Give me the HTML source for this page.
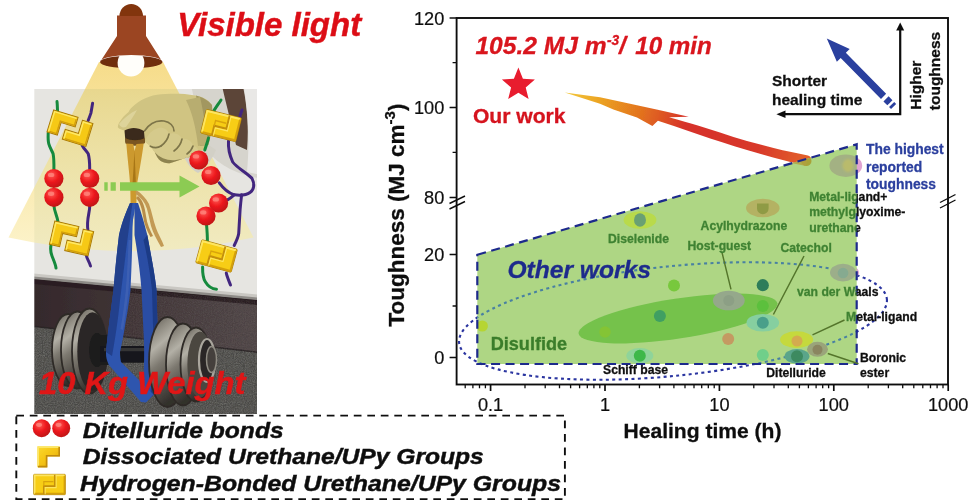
<!DOCTYPE html>
<html>
<head>
<meta charset="utf-8">
<title>Figure</title>
<style>
html,body{margin:0;padding:0;background:#fff;}
body{width:974px;height:502px;overflow:hidden;font-family:"Liberation Sans",sans-serif;}
svg{display:block;}
text{font-family:"Liberation Sans",sans-serif;}
.ax{font-size:18.2px;fill:#111;stroke:#111;stroke-width:0.2px;}
.b{font-weight:bold;}
.bi{font-weight:bold;font-style:italic;}
.sm{font-size:12.2px;font-weight:bold;}
.bl{font-size:13.85px;font-weight:bold;fill:#2b3f9e;stroke:#2b3f9e;stroke-width:0.3px;}
</style>
</head>
<body>
<svg width="974" height="502" viewBox="0 0 974 502">
<defs>
  <filter id="soft" x="-2%" y="-2%" width="104%" height="104%"><feGaussianBlur stdDeviation="0.45"/></filter>
  <filter id="b07" x="-5%" y="-5%" width="110%" height="110%"><feGaussianBlur stdDeviation="0.7"/></filter>
  <filter id="b1" x="-20%" y="-20%" width="140%" height="140%"><feGaussianBlur stdDeviation="1"/></filter>
  <filter id="b2" x="-20%" y="-20%" width="140%" height="140%"><feGaussianBlur stdDeviation="2"/></filter>
  <filter id="b4" x="-30%" y="-30%" width="160%" height="160%"><feGaussianBlur stdDeviation="4"/></filter>
  <linearGradient id="flame" gradientUnits="userSpaceOnUse" x1="806" y1="160" x2="566" y2="92">
    <stop offset="0" stop-color="#e2602a"/>
    <stop offset="0.2" stop-color="#d8382a"/>
    <stop offset="0.5" stop-color="#d6302a"/>
    <stop offset="0.68" stop-color="#e2701f"/>
    <stop offset="0.85" stop-color="#eba020"/>
    <stop offset="1" stop-color="#f3c83c"/>
  </linearGradient>
  <radialGradient id="ball" cx="0.38" cy="0.32" r="0.7">
    <stop offset="0" stop-color="#ff5a55"/>
    <stop offset="0.5" stop-color="#ee1a1e"/>
    <stop offset="1" stop-color="#c01216"/>
  </radialGradient>
  <clipPath id="inpoly"><path d="M477.3 254.8L856.7 144.3V364H477.3Z"/></clipPath>
  <clipPath id="outpoly"><path d="M856.7 100H974V400H856.7Z"/></clipPath>
</defs>
<g filter="url(#soft)">
<!-- ============ LEFT PANEL ============ -->
<defs>
  <clipPath id="floorclip"><path d="M26 326.1L265 353.9V423H26Z"/></clipPath>
  <clipPath id="bbclip"><path d="M34 280L257 301V353L34 327Z"/></clipPath>
  <clipPath id="photo"><rect x="34.3" y="89" width="222.7" height="325"/></clipPath>
  <linearGradient id="cone" gradientUnits="userSpaceOnUse" x1="0" y1="62" x2="0" y2="251">
    <stop offset="0" stop-color="#f6dc8a"/>
    <stop offset="0.3" stop-color="#f8e49f"/>
    <stop offset="0.7" stop-color="#faecb6"/>
    <stop offset="1" stop-color="#fcf3cb"/>
  </linearGradient>
  <linearGradient id="cone2" gradientUnits="userSpaceOnUse" x1="0" y1="62" x2="0" y2="251">
    <stop offset="0" stop-color="#e6d07a" stop-opacity="0.92"/>
    <stop offset="0.2" stop-color="#e9d88c" stop-opacity="0.92"/>
    <stop offset="0.55" stop-color="#eee2a2" stop-opacity="0.9"/>
    <stop offset="1" stop-color="#f2ebbc" stop-opacity="0.88"/>
  </linearGradient>
  <linearGradient id="baseb" gradientUnits="userSpaceOnUse" x1="34" y1="0" x2="257" y2="0">
    <stop offset="0" stop-color="#35292c"/>
    <stop offset="0.45" stop-color="#403436"/>
    <stop offset="1" stop-color="#4f4546"/>
  </linearGradient>
  <linearGradient id="gold" x1="0" y1="0" x2="1" y2="1">
    <stop offset="0" stop-color="#fbd92e"/>
    <stop offset="0.5" stop-color="#f4c313"/>
    <stop offset="1" stop-color="#dba50c"/>
  </linearGradient>
  <linearGradient id="steel" x1="0" y1="0" x2="0.35" y2="1">
    <stop offset="0" stop-color="#55514a"/>
    <stop offset="0.2" stop-color="#8e8a80"/>
    <stop offset="0.36" stop-color="#b3b0a6"/>
    <stop offset="0.55" stop-color="#7d7970"/>
    <stop offset="0.8" stop-color="#524e48"/>
    <stop offset="1" stop-color="#33302c"/>
  </linearGradient>
  <filter id="speck" x="0" y="0" width="100%" height="100%">
    <feTurbulence type="fractalNoise" baseFrequency="0.9" numOctaves="2" seed="3" result="n"/>
    <feColorMatrix in="n" type="matrix" values="0 0 0 0 0.5  0 0 0 0 0.5  0 0 0 0 0.48  0.9 0.9 0 0 -0.62"/>
  </filter>
  <!-- bonded pair symbol, 42x25 centred at origin -->
  <g id="pair">
    <rect x="-21" y="-12.5" width="42" height="25" rx="1.2" fill="#f7cd12" stroke="#a87a0a" stroke-width="0.9"/>
    <path d="M-19.6 11V-11.1H19.6" fill="none" stroke="#fde560" stroke-width="2.2"/>
    <path d="M19.8 -10.5V11.3H-19" fill="none" stroke="#d39f0d" stroke-width="2.2"/>
    <path d="M7 -12V2H-7.5V12" fill="none" stroke="#c48f08" stroke-width="2.2" stroke-linejoin="miter"/>
    <path d="M8.8 -12V3.8H-5.7V12" fill="none" stroke="#fde560" stroke-width="1.3"/>
    <path d="M-7.5 2V-3.5H5.2" fill="none" stroke="#d8a30c" stroke-width="1.5"/>
  </g>
  <g id="pairG">
    <path d="M0 0H25.5V10H10.8V23H0Z" fill="#f6c915" stroke="#a87a0a" stroke-width="1"/>
    <path d="M30.5 1.5H41.5V25.5H16.8V15.3H30.5Z" fill="#f6c915" stroke="#a87a0a" stroke-width="1"/>
    <path d="M1.4 21.8V1.4H24.3" fill="none" stroke="#fde765" stroke-width="1.5"/>
    <path d="M24.3 2.3V8.8H9.6V21.8H2.3" fill="none" stroke="#d39f0d" stroke-width="1.4"/>
    <path d="M18.2 24.2V16.7H31.9V2.9H40.2" fill="none" stroke="#fde765" stroke-width="1.5"/>
    <path d="M40.3 3.8V24.3H19.1" fill="none" stroke="#d39f0d" stroke-width="1.4"/>
  </g>
  <g id="rb"><circle r="9.6" fill="url(#ball)"/><ellipse cx="-2.8" cy="-3.6" rx="3.2" ry="2.2" fill="#ff8a80" opacity="0.75"/></g>
</defs>

<!-- light cone -->
<path d="M99 62H163L253.5 237.5Q131 265 8.5 237.5Z" fill="url(#cone)"/>
<!-- lamp -->
<ellipse cx="131.25" cy="62" rx="31.2" ry="6.3" fill="#6f2d10"/>
<circle cx="131" cy="63" r="13.4" fill="#fffefa"/>
<path d="M117 15.5H146V36L162.5 62A31.25 7 0 0 0 100 62L117 36Z" fill="#9b4420"/>
<path d="M119.5 16A11.7 12 0 0 1 143 16Z" fill="#82340f"/>
<!-- photo -->
<g clip-path="url(#photo)"><g filter="url(#b07)">
  <rect x="26" y="81" width="240" height="342" fill="#e6e5e1"/>
  <!-- sleeve / cuff right-top -->
  <path d="M190 81H266V179C240 176 222 168 206 150Z" fill="#d6d4cd"/>
  <path d="M221 81H242C247 105 249 125 247 150L236 145C232 125 226 105 221 81Z" fill="#5b4537"/>
  <path d="M243 81H266V176L247 172C250 140 248 110 243 81Z" fill="#e9e8e6"/>
  <!-- baseboard -->
  <path d="M26 277.2L265 299.8V353.9L26 326.1Z" fill="url(#baseb)"/>
  <path d="M26 277.2L265 299.8V305.8L26 283.2Z" fill="#2a1f22"/>
  <path d="M26 324.6L265 352.4V354.9L26 327.1Z" fill="#2b2526"/>
  <path d="M26 272.7L265 295.3V300.3L26 277.7Z" fill="#c9c7c2"/>
  <path d="M26 275.7L265 298.3V300.8L26 278.2Z" fill="#8d8a86"/>
  <!-- floor -->
  <path d="M26 326.1L265 353.9V423H26Z" fill="#4a4946"/>
  <rect x="26" y="300" width="240" height="123" filter="url(#speck)" clip-path="url(#floorclip)" opacity="0.4"/>
  <rect x="120" y="283" width="138" height="72" filter="url(#speck)" clip-path="url(#bbclip)" opacity="0.16"/>
  <!-- cone over photo -->
  <path d="M99 62H163L253.5 237.5Q131 265 8.5 237.5Z" fill="url(#cone2)"/>
  <path d="M184.6 158.1C192 156 200 152 208.5 144.7L216 150C212 160 205 169 198 173C192 170 188 165 184.6 158.1Z" fill="#d2d0c6"/>
  <!-- hand (glove) -->
  <path d="M117.8 127.3C118 124 119 123 119.6 121.9C122 118 125 115 128.6 112C130 109 132 107 134.8 104.8C139 101 144 98.5 149.2 96.8C154 95 160 94.3 165.3 94.1C170 93.7 175 93.6 179.7 93.7C186 94 194 95 200 96.5C205 98 209 101 212 105C213 118 212 132 208.5 144.7C206 148 203 150 199.6 152.2C195 155 190 157 184.6 158.1C180 160 175 162 169.7 163.2C166 163.5 163 162.5 160.7 161.1C158 159 156 155 154.8 152.2C153 150 152 148 150.3 146.2C148 144 147 143 145.2 141.7L144 131C138 127 130 127 124.5 130.5C122 130 119 129 117.8 127.3Z" fill="#d0c482"/>
  <path d="M196 95.5C202 97 208 100 212 105C213 118 212 132 208.5 144.7L200 146C201 128 199 110 196 95.5Z" fill="#9a8f5a" opacity="0.85"/>
  <path d="M186 100C192 112 196 128 198 146L208.5 144.7C206 128 203 110 200 97Z" fill="#b8ad70"/>
  <path d="M145.2 141.7C147 135 152 130 158 128C164 127 168 130 169 134C174 132 180 134 182 139C187 138 192 141 193 146C196 146 198 148 199.6 152.2C195 155 190 157 184.6 158.1C180 160 175 162 169.7 163.2C166 163.5 163 162.5 160.7 161.1C158 159 156 155 154.8 152.2C153 150 152 148 150.3 146.2C148 144 147 143 145.2 141.7Z" fill="#d5ca8c"/>
  <g fill="none" stroke="#7d7448" stroke-width="1.6" stroke-linecap="round">
    <path d="M144.5 131C149 124 156 120 164 121C170 122 174 126 174 131"/>
    <path d="M169 134C168 139 165 143 161 146"/>
    <path d="M182 139C181 144 178 148 174 151"/>
    <path d="M193 146C192 149 190 152 187 154"/>
    <path d="M150.3 146.2C154 148 158 148 161 146"/>
  </g>
  <path d="M154.8 152.2C160 158 168 161 176 160C184 159 192 156 199.6 152.2C195 155 190 157 184.6 158.1C180 160 175 162 169.7 163.2C166 163.5 163 162.5 160.7 161.1C158 159 156 155 154.8 152.2Z" fill="#8d8350"/>
  <path d="M119 124C124 118 130 113 137 110C134 116 130 121 126 127C123 128 120 127 119 124Z" fill="#ddd39a"/>
  <!-- clamp -->
  <path d="M124.5 130.5C130 127 138 127 144 131L145 142C139 145.5 131 145.5 125.5 142.5Z" fill="#3a2a1a"/>
  <path d="M125.2 138C131 141 139 141 144.8 138L145 143C139 146.5 131 146.5 125.5 143.5Z" fill="#7a5520"/>
  <!-- amber strip -->
  <path d="M126.3 143.5L133.2 144L134.6 151L136.4 144L143.7 143.5C141.5 160 138.5 175 136.6 187L136.4 206L130.6 206L130.3 187C129.3 172 127.3 157 126.3 143.5Z" fill="#cc992e"/>
  <path d="M134.5 151L136 186L132.4 186Z" fill="#a87618"/>
  <path d="M136 190C141 193 146 198 149 204C152 212 153 220 156 228C158 234 162 240 164 246L161 247C157 240 153 233 151 226C149 218 148 210 145 204C142 199 139 196 135.5 194Z" fill="#c39a55"/>
  <path d="M138 196C143 200 145 208 146 216C147 224 150 230 153 236L150.5 237C147 231 144 224 143 216C142 209 140 202 136 198Z" fill="#b88c48"/>
  <!-- dumbbell handle -->
  <path d="M100 346H162V362.5H100Z" fill="#19191b"/>
  <path d="M100 348H162V351.5H100Z" fill="#333335"/>
  <!-- left plates: leftmost first so crescents show at left -->
  <g stroke="#2f2b28" stroke-width="1.8" fill="url(#steel)">
    <ellipse cx="68" cy="350" rx="16" ry="36"/>
    <ellipse cx="77.5" cy="350" rx="16.5" ry="38.5"/>
    <ellipse cx="89.5" cy="351" rx="17.5" ry="42.5"/>
  </g>
  <ellipse cx="92.5" cy="351.5" rx="15.2" ry="39.3" fill="#2b2725"/>
  <ellipse cx="97" cy="350" rx="8" ry="17" fill="#1c1c1e"/>
  <path d="M97 335H109V365H97Z" fill="#1c1c1e"/>
  <path d="M100 346H162V362.5H100Z" fill="#19191b"/>
  <path d="M104 348H162V351.2H104Z" fill="#343436"/>
  <!-- right band of strap (behind right plates) -->
  <path d="M134.5 203L138 203C141 212 144 222 147.3 235C151 255 155 275 156.5 290L158 343C158 365 156.5 385 153.5 395L146 402L141 399C143.5 385 144.5 365 144 343L141.5 290C140 270 137 250 134.5 235Z" fill="#2a4da4"/>
  <path d="M147.3 235C151 255 155 275 156.5 290L158 343C158 365 156.5 385 153.5 395L150 398C152 380 153.5 360 153.5 343L152 290C150.5 275 147 255 143.5 240Z" fill="#1d3a86"/>
  <!-- right plates -->
  <g stroke="#2f2b28" stroke-width="1.8" fill="url(#steel)">
    <ellipse cx="167.5" cy="362" rx="18.5" ry="45"/>
    <ellipse cx="183" cy="364.5" rx="17" ry="41"/>
    <ellipse cx="196" cy="364.5" rx="15.5" ry="37"/>
  </g>
  <ellipse cx="200" cy="364.5" rx="12.6" ry="33" fill="#4b4641"/>
  <ellipse cx="207" cy="360.5" rx="8" ry="21.5" fill="#2a2725" stroke="#aaa69d" stroke-width="2.2"/>
  <ellipse cx="211.5" cy="359.5" rx="5" ry="13" fill="#45413c" stroke="#8f8b83" stroke-width="1.5"/>
  <!-- left band + wrap -->
  <path d="M130 203L135.5 203C135 210 134 215 133 220C132.6 225 132.4 230 132.4 235C132 255 131.3 272 130.5 290C129 302 127.5 312 126 320C124 333 122 343 120 352C120 356 120.5 359 121 362L153.5 394.5L146 402.5L141 402L108.7 364.7C106.5 360 105.8 356 106 352C108 330 111 310 113.5 290C115 270 117 252 119 235C122 222 126 212 130 203Z" fill="#2d54ae"/>
  <path d="M119 235C122 222 126 212 130 203L132.5 203C129 225 125 260 120 300C118 320 115 340 112 356L106 352C108 330 111 310 113.5 290C115 270 117 252 119 235Z" fill="#213f8c"/>
  <path d="M131 240C130.5 258 129.5 275 128.5 290C127 305 125 318 123 330L120.5 329C122.5 316 124.5 304 125.8 290C127 275 128 258 128.5 240Z" fill="#4263b4" opacity="0.8"/>
</g></g>

<!-- molecules -->
<g fill="none" stroke-width="3" stroke-linecap="round">
  <g stroke="#158a3c">
    <path d="M57 101.6C57.3 104 57.4 107 57.5 111"/>
    <path d="M48.2 133C48 138 48 141 48.8 143.8C50 148 52 151 53.1 153.7C54 158 54 164 53.9 170"/>
    <path d="M53.9 205C54 211 57 215 58 222"/>
    <path d="M51.5 243C50 248 50.5 252 52 256C53.5 260 55.5 264 56 268"/>
    <path d="M221 100C217 106 214 110 212 114"/>
    <path d="M208.5 138C207.5 142 206 146 204.8 150"/>
    <path d="M206.5 224C207 230 207.4 236 207.4 241"/>
    <path d="M202.6 266.9C202.5 273 203 278 205.3 281.8C207.5 285.5 212 289 216.5 289.2"/>
  </g>
  <g stroke="#43277f">
    <path d="M92.6 103.3C92 107 91.5 110 90.9 113.1C90 116 89 118 88.2 120.5"/>
    <path d="M82.2 145.5C84 149 86.5 151 88.2 153.7C89.5 158 89.7 163 89.7 169"/>
    <path d="M89.7 206C90 212 86 220 88 231"/>
    <path d="M86.5 256C87 259 89.5 262 90.5 266"/>
    <path d="M242 110C241 113 240 116 239 119"/>
    <path d="M228.5 141C228 148 230 156 232.7 162C237 168 246 172 252 178.4C255 184 254 190 250 192.5C246 195.5 240 195.5 234.2 194.8C229 193 223 188 219.3 182.8"/>
    <path d="M241.6 194.8C241 200 240.5 205 240.1 209.7C239.5 220 239 228 238.7 233.6C238 238 236 242 234.2 245.5"/>
    <path d="M227.5 199.8C230 198.5 232 196.8 234.2 194.8"/>
    <path d="M226.3 273.1C227 277 229 281 230.5 285"/>
  </g>
</g>
<use href="#pairG" transform="translate(53.7 109.9) rotate(17)"/>
<use href="#pairG" transform="translate(54.8 221) rotate(13) scale(0.97 1.04)"/>
<use href="#pair" transform="translate(221 125.5) rotate(14) scale(0.862 0.976)"/>
<use href="#pair" transform="translate(216.5 256) rotate(15.3) scale(0.876 0.952)"/>
<use href="#rb" transform="translate(53.9 178.5)"/>
<use href="#rb" transform="translate(53.9 197.3)"/>
<use href="#rb" transform="translate(89.7 178.5)"/>
<use href="#rb" transform="translate(89.7 197.3)"/>
<use href="#rb" transform="translate(198.8 160)"/>
<use href="#rb" transform="translate(211 175.5)"/>
<use href="#rb" transform="translate(218.6 203)"/>
<use href="#rb" transform="translate(206 216)"/>
<!-- green arrow -->
<path d="M104.3 182.3h3.4v8.4h-3.4zM110.6 182.3h5.2v8.4h-5.2zM120 182.3H179.5V175.5L199.5 186.5L179.5 197.5V190.7H120Z" fill="#8ccb52"/>
<text class="bi" x="39" y="393.7" font-size="31.5" fill="#e01418" textLength="206.3" lengthAdjust="spacingAndGlyphs" stroke="#e01418" stroke-width="0.45">10 Kg Weight</text>
<text class="bi" x="177.2" y="36" font-size="33" fill="#dc1016" stroke="#dc1016" stroke-width="0.45">Visible light</text>

<!-- legend -->
<rect x="16.3" y="415.6" width="548.6" height="83.5" fill="none" stroke="#111" stroke-width="1.9" stroke-dasharray="7.7 5.8"/>
<g transform="translate(41.7 428.2) scale(0.935)"><use href="#rb"/></g>
<g transform="translate(61.2 428.2) scale(0.935)"><use href="#rb"/></g>
<path d="M37.5 446.4H59.8V456.4H47.2V467.2H37.5Z" fill="url(#gold)"/>
<path d="M38.2 467V447.1H59.4" fill="none" stroke="#fde765" stroke-width="1.6"/>
<path d="M59.2 447V455.8H46.6V466.6H38" fill="none" stroke="#c08a08" stroke-width="1.6"/>
<use href="#pair" transform="translate(49.5 484.5) scale(0.757 0.816)"/>
<g class="bi" font-size="22.2" fill="#111" stroke="#111" stroke-width="0.45">
  <text x="82.8" y="437.6" textLength="200.8" lengthAdjust="spacingAndGlyphs">Ditelluride bonds</text>
  <text x="82.8" y="463.6" textLength="401" lengthAdjust="spacingAndGlyphs">Dissociated Urethane/UPy Groups</text>
  <text x="80" y="490.8" textLength="481" lengthAdjust="spacingAndGlyphs">Hydrogen-Bonded Urethane/UPy Groups</text>
</g>
</g>
<g filter="url(#soft)">
<!-- dotted ellipse (outside part) -->
<ellipse cx="673" cy="321" rx="215" ry="54.8" transform="rotate(-5.85 673 321)" fill="none" stroke="#2a34a0" stroke-width="2.1" stroke-dasharray="3 3.4"/>
<!-- pink slivers outside the polygon -->
<ellipse cx="845.8" cy="165.7" rx="16.4" ry="11.2" fill="#dfa3d2"/>
<ellipse cx="843" cy="272.6" rx="16" ry="8.8" fill="#dfa3d2"/>
<!-- flame arrow -->
<path d="M564.8 92.6L600 97.3L637 105.3L660 110.3L688.7 116.8L669 117.3C680 120.5 690 123.3 698.6 125.7L720 132.4C738 138.5 756 143.5 773.6 148C786 151 797 153.3 808 155.5A5.3 5.3 0 0 1 805 166.2L800 164.5C782 160 764 155 747 150C730 145 714 139.8 698.6 134.5L673.9 126L657.9 120.7L652.4 125.9L637 117.6L613.4 109.4L600 103.7Z" fill="url(#flame)"/>
<!-- green polygon -->
<path d="M477.3 254.8L856.7 144.3V364H477.3Z" fill="#aed684"/>
<g clip-path="url(#inpoly)"><g filter="url(#b07)">
  <!-- flame tail under overlay -->
  <circle cx="806.3" cy="160.9" r="5.2" fill="#a9a238"/>
  <path d="M790 152L808 155.5L806 166L786 162Z" fill="#b0a040" opacity="0.8"/>
  <!-- dotted ellipse inside (greenish blue) -->
  <ellipse cx="673" cy="321" rx="215" ry="54.8" transform="rotate(-5.85 673 321)" fill="none" stroke="#4880a2" stroke-width="2.1" stroke-dasharray="3 3.4"/>
  <!-- disulfide ellipse -->
  <ellipse cx="678" cy="318.5" rx="100.5" ry="20" transform="rotate(-8.7 678 318.5)" fill="#74c24c"/>
  <!-- highest reported -->
  <ellipse cx="845.8" cy="165.7" rx="16.4" ry="11.2" fill="#a3b183"/>
  <ellipse cx="848" cy="165.5" rx="5.5" ry="6.5" fill="#b9bb6c" filter="url(#b1)"/>
  <!-- diselenide -->
  <ellipse cx="640" cy="220" rx="16.4" ry="8.8" fill="#b9da4c"/>
  <ellipse cx="640" cy="220" rx="6" ry="6.8" fill="#6aa073"/>
  <!-- acylhydrazone -->
  <ellipse cx="762.8" cy="208" rx="16.8" ry="9.2" fill="#b4b263"/>
  <path d="M757 203.5h11.6v5a5.8 5.8 0 0 1-11.6 0z" fill="#8f9b45"/>
  <!-- host-guest -->
  <ellipse cx="728.8" cy="300.5" rx="15.9" ry="9.8" fill="#95a88b"/>
  <circle cx="728.8" cy="300.5" r="5.5" fill="#8c9f85"/>
  <!-- van der waals -->
  <ellipse cx="843" cy="272.6" rx="13" ry="8.8" fill="#9cae8a"/>
  <circle cx="843" cy="273" r="5.3" fill="#86aa90"/>
  <!-- plain dots -->
  <circle cx="482.3" cy="326" r="5.6" fill="#b6d530"/>
  <circle cx="605" cy="332" r="5.8" fill="#84c436"/>
  <circle cx="674" cy="285.4" r="6" fill="#78c83c"/>
  <circle cx="659.9" cy="316" r="6" fill="#3f9f62"/>
  <circle cx="762.8" cy="285.2" r="6.1" fill="#2f7d5a"/>
  <circle cx="762.8" cy="306.1" r="6" fill="#5cc03c"/>
  <circle cx="728.2" cy="339" r="6" fill="#c49a62"/>
  <circle cx="762.8" cy="354.9" r="6" fill="#6fcf8a"/>
  <!-- schiff base -->
  <ellipse cx="639.8" cy="355.7" rx="13.5" ry="7.7" fill="#8fd49a"/>
  <circle cx="639.8" cy="355.7" r="6" fill="#3cb84a"/>
  <!-- catechol -->
  <ellipse cx="762.8" cy="322.8" rx="16.3" ry="8.8" fill="#86cfa0"/>
  <circle cx="762.8" cy="322.8" r="6" fill="#4a9f8a"/>
  <!-- metal-ligand -->
  <ellipse cx="796.6" cy="339.6" rx="16.5" ry="8.4" fill="#c5d93c"/>
  <circle cx="797" cy="341" r="5.5" fill="#d4ab50"/>
  <!-- ditelluride -->
  <ellipse cx="797" cy="356.3" rx="12.5" ry="7.3" fill="#5aa58a"/>
  <circle cx="797" cy="356.3" r="6" fill="#3d8a60"/>
  <!-- boronic ester -->
  <ellipse cx="817.5" cy="349.3" rx="10.5" ry="7.5" fill="#9aa47a"/>
  <circle cx="817.5" cy="349.8" r="5" fill="#8a8560"/>
</g></g>
<!-- polygon dashed border -->
<path d="M477.3 254.8L856.7 144.3V364H477.3Z" fill="none" stroke="#1f2a8c" stroke-width="2.2" stroke-dasharray="9 5.5"/>
<!-- leader lines -->
<g stroke="#54752c" stroke-width="1.45" fill="none">
  <path d="M721.8 251.7L731 289.4M804 256L773.4 314.5M844.5 320L812.5 334.8M827.8 353.5L858.5 363.8"/>
</g>
<!-- labels: green versions inside, black outside -->
<g class="sm" fill="#3f8232" clip-path="url(#inpoly)" stroke="#3f8232" stroke-width="0.3">
  <text x="608" y="242.6">Diselenide</text>
  <text x="700.6" y="230.3">Acylhydrazone</text>
  <text x="687.5" y="249.5">Host-guest</text>
  <text x="780.4" y="252.3">Catechol</text>
  <text x="797" y="295.5">van der Waals</text>
  <text x="846" y="321.4">Metal-ligand</text>
  <text x="809.2" y="200.8">Metal-ligand+</text>
  <text x="809.2" y="216.1">methylglyoxime-</text>
  <text x="809.2" y="231.5">urethane</text>
</g>
<g class="sm" fill="#111" clip-path="url(#outpoly)" stroke="#111" stroke-width="0.3">
  <text x="797" y="295.5">van der Waals</text>
  <text x="846" y="321.4">Metal-ligand</text>
  <text x="809.2" y="200.8">Metal-ligand+</text>
  <text x="809.2" y="216.1">methylglyoxime-</text>
  <text x="809.2" y="231.5">urethane</text>
</g>
<g class="sm" fill="#111" stroke="#111" stroke-width="0.3">
  <text x="603" y="373.9">Schiff base</text>
  <text x="766.2" y="377.3">Ditelluride</text>
  <text x="860" y="361.9">Boronic</text>
  <text x="860" y="377">ester</text>
</g>
<text class="b" x="490.7" y="349.5" font-size="18.1" fill="#3a7d2a" stroke="#3a7d2a" stroke-width="0.3">Disulfide</text>
<text class="bi" x="507.4" y="278.4" font-size="24.6" fill="#1f2a8c" stroke="#1f2a8c" stroke-width="0.3">Other works</text>
<g class="bl">
  <text x="866" y="154.3">The highest</text>
  <text x="866" y="171.8">reported</text>
  <text x="866" y="188.7">toughness</text>
</g>
<!-- top-left annotations -->
<text class="bi" y="53.5" font-size="24.6" fill="#d9141d" stroke="#d9141d" stroke-width="0.3"><tspan x="475.4">105.2 MJ m</tspan><tspan x="607" y="45.2" font-size="13.8">-3</tspan><tspan x="619" y="53.5">/</tspan><tspan x="635.2" textLength="76.6" lengthAdjust="spacingAndGlyphs">10 min</tspan></text>
<path d="M518.4 67.6L522.9 78.8L534.9 79.6L525.7 87.4L528.6 99.1L518.4 92.7L508.2 99.1L511.1 87.4L501.9 79.6L513.9 78.8Z" fill="#e81a2d"/>
<text class="b" x="472.9" y="123.1" font-size="21.1" fill="#d5121e" stroke="#d5121e" stroke-width="0.3">Our work</text>
<!-- top-right inset -->
<g stroke="#111" stroke-width="2.2" fill="none"><path d="M900.2 29V114.2H784"/></g>
<path d="M900.2 22.6L904.2 30.5H896.2ZM776.4 114.2L785.5 110.4V118Z" fill="#111"/>
<g class="b" font-size="15.5" fill="#111" stroke="#111" stroke-width="0.3">
  <text x="772" y="85.7">Shorter</text>
  <text x="772" y="105">healing time</text>
  <text transform="translate(921 109.8) rotate(-90)">Higher</text>
  <text transform="translate(940 110.2) rotate(-90)">toughness</text>
</g>
<g fill="#2b3f9e" transform="translate(826.8 38.6) rotate(45.5)">
  <path d="M0 0L23.5 -9V-3.6H81V3.6H23.5V9Z"/>
  <path d="M84.5 -3.6h5.5v7.2h-5.5zM92.5 -3.6h2.8v7.2h-2.8z"/>
</g>
<g fill="none" stroke="#111">
<rect x="456.6" y="18" width="491.4" height="366.5" stroke-width="1.9"/>
<path d="M490.6 384.5v6.5M605.0 384.5v6.5M719.4 384.5v6.5M833.8 384.5v6.5M948.2 384.5v6.5M449.6 18h7M449.6 107.5h7M449.6 197.5h7M449.6 254.5h7M449.6 357.5h7" stroke-width="1.7"/>
<path d="M465.2 384.5v3.8M472.9 384.5v3.8M479.5 384.5v3.8M485.4 384.5v3.8M525.0 384.5v3.8M545.2 384.5v3.8M559.5 384.5v3.8M570.6 384.5v3.8M579.6 384.5v3.8M587.3 384.5v3.8M593.9 384.5v3.8M599.8 384.5v3.8M639.4 384.5v3.8M659.6 384.5v3.8M673.9 384.5v3.8M685.0 384.5v3.8M694.0 384.5v3.8M701.7 384.5v3.8M708.3 384.5v3.8M714.2 384.5v3.8M753.8 384.5v3.8M774.0 384.5v3.8M788.3 384.5v3.8M799.4 384.5v3.8M808.4 384.5v3.8M816.1 384.5v3.8M822.7 384.5v3.8M828.6 384.5v3.8M868.2 384.5v3.8M888.4 384.5v3.8M902.7 384.5v3.8M913.8 384.5v3.8M922.8 384.5v3.8M930.5 384.5v3.8M937.1 384.5v3.8M943.0 384.5v3.8M452.6 62.7h4M452.6 152.4h4M452.6 306h4" stroke-width="1.3"/>
<path d="M449.5 203.5L465 196M449.5 209L465 201.5M940 202.5L955.5 194.5M940 208L955.5 200" stroke-width="1.4"/>
</g>
<text class="ax" x="490.6" y="411" text-anchor="middle">0.1</text>
<text class="ax" x="605.0" y="411" text-anchor="middle">1</text>
<text class="ax" x="719.4" y="411" text-anchor="middle">10</text>
<text class="ax" x="833.8" y="411" text-anchor="middle">100</text>
<text class="ax" x="948.2" y="411" text-anchor="middle">1000</text>
<text class="ax" x="444.3" y="24.5" text-anchor="end">120</text>
<text class="ax" x="444.3" y="114.0" text-anchor="end">100</text>
<text class="ax" x="444.3" y="204.0" text-anchor="end">80</text>
<text class="ax" x="444.3" y="261.0" text-anchor="end">20</text>
<text class="ax" x="444.3" y="364.0" text-anchor="end">0</text>
<text class="b" x="623.5" y="438.3" font-size="20.9" fill="#111" textLength="158" lengthAdjust="spacingAndGlyphs" stroke="#111" stroke-width="0.3">Healing time (h)</text>
<text class="b" transform="translate(404.2 326.5) rotate(-90)" font-size="22.5" fill="#111" stroke="#111" stroke-width="0.3">Toughness (MJ cm<tspan font-size="15" dy="-9">-3</tspan><tspan dy="9">)</tspan></text>
</g>
</svg>
</body>
</html>
